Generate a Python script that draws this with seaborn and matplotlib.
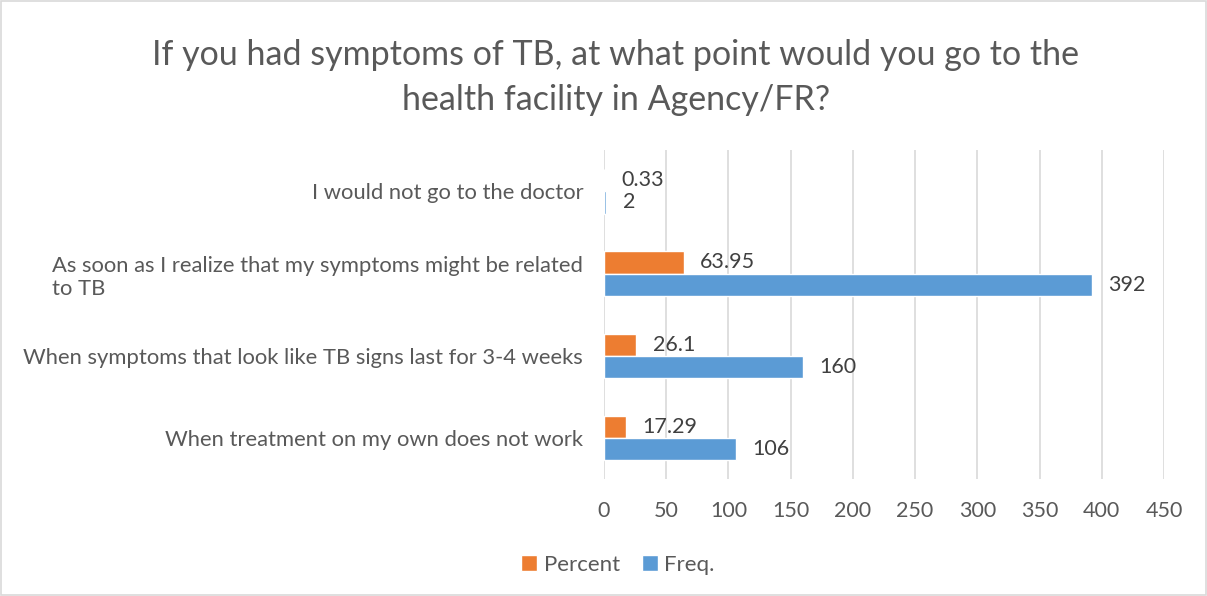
import matplotlib
matplotlib.use("Agg")
import matplotlib.pyplot as plt
import seaborn as sns
import pandas as pd
from matplotlib.patches import Rectangle, Patch

categories = [
    "I would not go to the doctor",
    "As soon as I realize that my symptoms might be related\nto TB",
    "When symptoms that look like TB signs last for 3-4 weeks",
    "When treatment on my own does not work",
]
percent = [0.33, 63.95, 26.1, 17.29]
freq = [2, 392, 160, 106]
series_names = ["Percent", "Freq."]
xticks = [0, 50, 100, 150, 200, 250, 300, 350, 400, 450]
title = "If you had symptoms of TB, at what point would you go to the\nhealth facility in Agency/FR?"

sns.set_theme(style="white")
plt.rcParams["font.family"] = ["Lato", "DejaVu Sans"]

text_color = "#595959"
colors = {"Percent": "#ED7D31", "Freq.": "#5B9BD5"}

df = pd.DataFrame({
    "Category": categories * 2,
    "Value": percent + freq,
    "Series": [series_names[0]] * len(categories) + [series_names[1]] * len(categories),
})

fig = plt.figure(figsize=(12.07, 5.96), dpi=100)
ax = fig.add_axes([0.5004, 0.196, 0.4640, 0.552])

sns.barplot(data=df, y="Category", x="Value", hue="Series", hue_order=series_names,
            order=categories, palette=colors, orient="h", width=0.54,
            saturation=1, ax=ax, legend=False, errorbar=None)

ax.set_xlim(0, 450)
ax.set_xticks(xticks)
ax.set_xticklabels([str(v) for v in xticks])
ax.set_ylim(len(categories) - 0.5, -0.5)
ax.set_xlabel("")
ax.set_ylabel("")
ax.grid(axis="x", color="#D9D9D9", linewidth=1.2)
ax.set_axisbelow(True)
for s in ax.spines.values():
    s.set_visible(False)
ax.tick_params(axis="both", length=0, labelsize=15.5, colors=text_color)
ax.tick_params(axis="x", pad=16)
ax.tick_params(axis="y", labelsize=15.8, pad=15)
for t in ax.get_yticklabels():
    t.set_multialignment("left")

for cont, vals in zip(ax.containers, [percent, freq]):
    ax.bar_label(cont, labels=[f"{v:g}" for v in vals], padding=12,
                 fontsize=15.5, color="#404040")

fig.suptitle(title, x=0.51, y=0.935, fontsize=24.5, color=text_color, linespacing=1.5)

handles = [Patch(facecolor=colors[s], label=s) for s in series_names]
fig.legend(handles=handles, loc="center", bbox_to_anchor=(0.512, 0.052), ncol=2,
           frameon=False, fontsize=16, labelcolor=text_color, handlelength=0.7,
           handleheight=0.7, handletextpad=0.3, columnspacing=1.0)

fig.patches.append(Rectangle((0.001, 0.001), 0.998, 0.997, transform=fig.transFigure,
                             fill=False, edgecolor="#D9D9D9", linewidth=1.2))

fig.savefig("out.png", dpi=100)
